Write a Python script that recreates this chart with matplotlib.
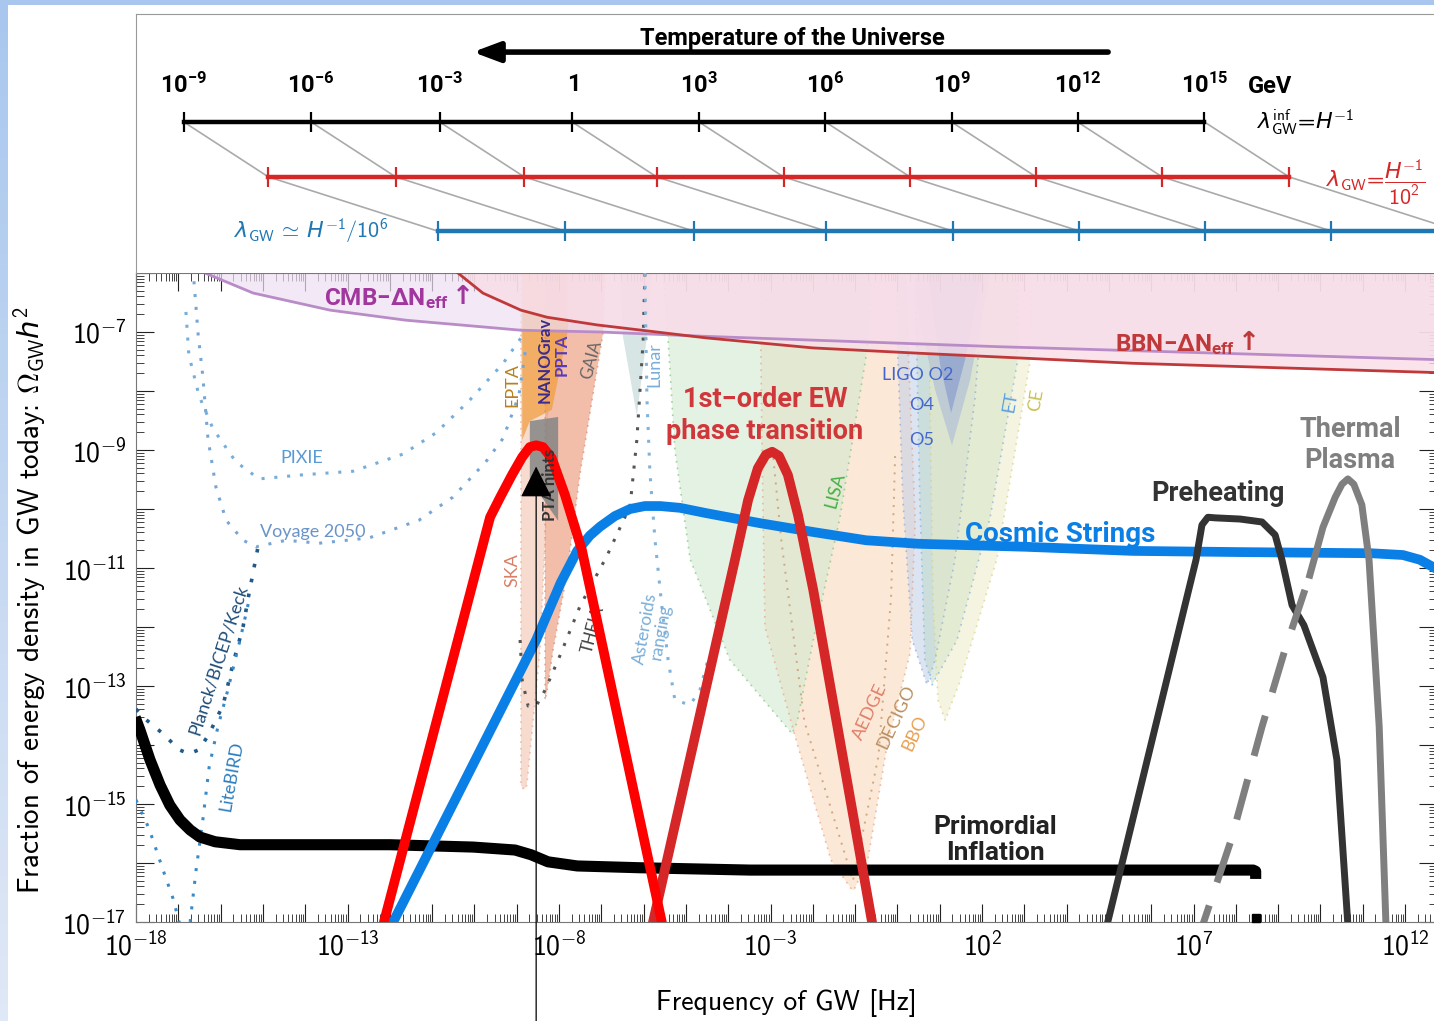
import numpy as np
import matplotlib
matplotlib.use("Agg")
import matplotlib.pyplot as plt
from matplotlib import font_manager
from matplotlib.colors import LinearSegmentedColormap
from matplotlib.patches import Rectangle
from matplotlib.ticker import LogLocator, FuncFormatter, NullFormatter

names = {f.name for f in font_manager.fontManager.ttflist}
BOLD = 'Liberation Sans Narrow' if 'Liberation Sans Narrow' in names else 'Roboto'
SMALL = 'Lato' if 'Lato' in names else 'DejaVu Sans'

plt.rcParams['font.family'] = ['cmss10', 'DejaVu Sans']
plt.rcParams['axes.unicode_minus'] = True
plt.rcParams['mathtext.fontset'] = 'custom'
plt.rcParams['mathtext.rm'] = 'cmss10'
plt.rcParams['mathtext.sf'] = 'cmss10'
plt.rcParams['mathtext.it'] = 'DejaVu Sans:italic'
plt.rcParams['mathtext.bf'] = BOLD + ':bold'
plt.rcParams['mathtext.fallback'] = 'cm'

# ---------------- data (log10 f [Hz], log10 Omega h^2) ----------------
# temperature scale: T [GeV] and log10 of the horizon frequency today
temps_exp = [-9, -6, -3, 0, 3, 6, 9, 12, 15]
horizon_logf = [-16.87, -13.86, -10.82, -7.69, -4.69, -1.70, 1.28, 4.26, 7.26]
red_shift_dec = 2    # lambda = H^-1 / 10^2
blue_shift_dec = 6   # lambda = H^-1 / 10^6

infl_lf = [-18.02, -17.905, -17.67, -17.43, -17.20, -16.96, -16.72, -16.49, -16.13, -15.54,
           -14.12, -12.0, -10.03, -9.04, -8.66, -8.26, -7.57, -6.11, -3.48, 2.43, 8.41,
           8.47, 8.47]
infl_lo = [-13.53, -13.75, -14.25, -14.68, -15.02, -15.27, -15.44, -15.56, -15.64, -15.69,
           -15.69, -15.69, -15.73, -15.78, -15.86, -15.98, -16.05, -16.08, -16.12, -16.12,
           -16.12, -16.14, -16.27]

cs_lf = [-12.2, -11.92, -8.54, -7.96, -7.57, -7.27, -7.03, -6.68, -6.32, -5.97, -5.61, -5.14,
         -4.52, -3.25, -1.99, -0.74, 0.51, 3.02, 5.55, 8.05, 11.20, 11.95, 12.35, 12.83]
cs_lo = [-17.5, -17.0, -12.22, -11.25, -10.71, -10.45, -10.30, -10.12, -10.0, -9.95, -9.95,
         -9.98, -10.07, -10.24, -10.39, -10.53, -10.59, -10.64, -10.71, -10.73, -10.75, -10.78,
         -10.86, -11.05]

pt_lf = [-12.23, -9.63, -9.39, -9.11, -8.87, -8.69, -8.54, -8.38, -8.17, -7.86, -7.46,
         -5.57, -5.50]
pt_lo = [-17.25, -10.14, -9.80, -9.42, -9.12, -8.95, -8.92, -8.95, -9.14, -9.76, -10.69,
         -17.0, -17.3]

ew_lf = [-5.90, -3.84, -3.53, -3.30, -3.11, -2.96, -2.80, -2.59, -2.35, -1.99, -0.60, -0.51]
ew_lo = [-17.39, -10.86, -9.85, -9.31, -9.08, -9.03, -9.10, -9.42, -10.10, -11.37, -17.0, -17.39]

preh_lf = [4.84, 7.06, 7.20, 7.34, 7.51, 8.10, 8.62, 8.93, 9.09, 9.33, 9.61, 10.06, 10.39,
           10.65, 10.70]
preh_lo = [-17.39, -10.86, -10.27, -10.14, -10.15, -10.17, -10.22, -10.44, -10.86, -11.63,
           -11.97, -12.85, -14.25, -17.05, -17.39]

th_dash_lf = [7.06, 7.89, 8.62, 9.16, 9.75]
th_dash_lo = [-17.39, -15.61, -13.69, -12.39, -11.12]
th_lf = [9.75, 10.06, 10.35, 10.51, 10.65, 10.79, 10.98, 11.15, 11.39, 11.55, 11.57]
th_lo = [-11.12, -10.31, -9.80, -9.58, -9.49, -9.58, -9.93, -10.86, -13.69, -17.05, -17.39]

cmb_lf = [-16.37, -15.23, -13.41, -11.62, -8.90, -7.03, -4.67, 2.43, 12.83]
cmb_lo = [-6.0, -6.34, -6.63, -6.80, -6.97, -7.0, -7.07, -7.25, -7.47]
bbn_lf = [-10.39, -9.80, -8.90, -8.28, -7.10, -4.52, -1.99, 0.51, 5.55, 12.83]
bbn_lo = [-6.0, -6.34, -6.63, -6.75, -6.88, -7.10, -7.27, -7.36, -7.53, -7.69]

# detector regions (polygons)
ska_lf = [-8.90, -8.26, -8.26, -8.45, -8.76, -8.83, -8.90]
ska_lo = [-6.0, -6.0, -9.49, -12.39, -14.68, -14.76, -14.68]
nano_lf = [-8.33, -6.91, -6.96, -7.50, -7.81, -8.14, -8.28, -8.33]
nano_lo = [-6.0, -6.0, -7.02, -9.39, -11.08, -12.39, -13.07, -13.24]
epta_lf = [-8.87, -7.79, -7.79, -8.17, -8.69, -8.87]
epta_lo = [-6.0, -6.0, -6.97, -8.32, -8.51, -8.83]
ptah_lf = [-8.69, -8.02, -8.02, -8.69]
ptah_lo = [-8.51, -8.44, -10.2, -9.51]
lunar_lf = [-6.56, -5.80, -5.92, -6.16, -6.49]
lunar_lo = [-6.0, -6.0, -7.07, -8.42, -7.07]
lisa_lf = [-5.54, -0.60, -0.72, -1.36, -1.99, -2.37, -2.49, -3.96, -4.90, -5.26, -5.42]
lisa_lo = [-6.0, -6.0, -7.32, -10.15, -12.22, -13.61, -13.81, -12.56, -10.85, -9.0, -7.14]
deci_lf = [-3.25, 0.18, 0.42, 0.30, -0.25, -0.70, -1.03, -1.07, -1.57, -2.44, -3.13, -3.20]
deci_lo = [-6.0, -6.0, -10.19, -12.44, -14.03, -15.95, -16.46, -16.46, -15.95, -13.80, -12.0, -9.0]
ligo_lf = [-0.01, 2.07, 1.83, 1.36, 0.89, 0.70, 0.35, 0.13, 0.01]
ligo_lo = [-6.0, -6.0, -8.15, -10.86, -12.56, -12.98, -12.22, -9.85, -7.39]
et_lf = [0.42, 2.85, 2.83, 2.19, 1.41, 0.82, 0.65, 0.53, 0.46]
et_lo = [-6.0, -6.0, -7.53, -10.15, -12.22, -12.98, -12.56, -9.85, -7.39]
ce_lf = [0.77, 3.18, 3.13, 2.35, 1.48, 1.13, 0.96, 0.84, 0.77]
ce_lo = [-6.0, -6.0, -7.53, -10.85, -12.92, -13.58, -13.24, -11.54, -8.15]
o4_lf = [0.42, 2.19, 1.72, 1.29, 0.89, 0.53]
o4_lo = [-6.0, -6.0, -7.81, -8.92, -7.98, -6.80]
o2_lf = [0.72, 2.0, 1.60, 1.27, 1.01]
o2_lo = [-6.0, -6.0, -7.47, -8.37, -7.56]

# dotted sensitivity curves
pixie_lf = [-16.82, -16.75, -16.51, -16.18, -15.64, -15.09, -14.05, -12.87, -11.69, -10.91,
            -10.13, -9.32, -8.85]
pixie_lo = [-6.66, -7.39, -8.08, -8.64, -9.20, -9.49, -9.42, -9.36, -9.07, -8.71, -8.17,
            -7.53, -7.05]
voy_lf = [-16.63, -16.53, -16.42, -16.30, -16.11, -15.87, -15.47, -15.16, -14.45, -13.67,
          -12.49, -11.31, -10.51, -9.73, -9.32, -8.95, -8.78]
voy_lo = [-6.14, -7.05, -7.75, -8.80, -9.63, -10.19, -10.53, -10.64, -10.53, -10.58, -10.49,
          -10.19, -9.80, -9.20, -8.80, -8.08, -7.25]
planck_lf = [-18.0, -17.83, -17.36, -16.98, -16.75, -16.51, -16.27, -15.94, -15.71, -15.47,
             -15.33, -15.16, -15.12]
planck_lo = [-13.39, -13.53, -13.81, -14.08, -14.15, -14.08, -13.81, -13.32, -12.63, -12.0,
             -11.44, -10.81, -10.66]
lite_lf = [-18.0, -17.69, -17.36, -17.13, -16.98, -16.89, -16.72, -16.58, -16.42, -16.27,
           -16.06, -15.83, -15.54, -15.30]
lite_lo = [-14.93, -15.42, -16.12, -16.59, -17.0, -17.3, -17.0, -16.12, -15.27, -14.37,
           -13.68, -13.07, -12.22, -11.46]
theia_lf = [-8.92, -8.87, -8.73, -8.54, -8.33, -7.98, -7.50, -6.87, -6.32, -6.16, -6.01, -5.97]
theia_lo = [-12.22, -12.90, -13.34, -13.34, -13.07, -12.49, -11.64, -10.80, -9.95, -8.83,
            -7.14, -6.0]
ast_lf = [-5.97, -5.92, -5.85, -5.73, -5.57, -5.42, -5.26, -4.90, -4.67, -4.48]
ast_lo = [-6.0, -8.15, -9.39, -10.53, -11.64, -12.56, -13.24, -13.32, -13.07, -12.56]
bbo_lf = [-2.95, -2.75, -2.20, -1.05, -0.45, -0.15, -0.05]
bbo_lo = [-9.0, -10.5, -13.6, -16.3, -14.2, -11.5, -9.0]

pta_arrow_lf = -8.54


def P(lf, lo):
    return 10.0 ** np.asarray(lf), 10.0 ** np.asarray(lo)


# ---------------- figure ----------------
fig = plt.figure(figsize=(14.34, 10.21), dpi=100)
bg = fig.add_axes([0, 0, 1, 1], zorder=-3)
bg.imshow(np.linspace(0, 1, 64)[:, None], aspect='auto', extent=[0, 1, 0, 1],
          cmap=LinearSegmentedColormap.from_list('bgc', ['#a9c7ee', '#dfe8f6']))
bg.axis('off')
fig.add_artist(Rectangle((8 / 1434, 0), 1, 1 - 5 / 1021, transform=fig.transFigure,
                         facecolor='white', edgecolor='none', zorder=-2))

W, H = 1434.0, 1021.0
x0, x1 = 136, 1437
ax = fig.add_axes([x0 / W, (H - 922) / H, (x1 - x0) / W, (922 - 273) / H])
axt = fig.add_axes([x0 / W, (H - 273) / H, (x1 + 10 - x0) / W, (273 - 14) / H])

xlim = (1e-18, 10 ** (-18 + (x1 - x0) / 42.3))
ylim = (1e-17, 1e-6)

# ---------------- main panel ----------------
ax.set_xscale('log')
ax.set_yscale('log')
ax.set_xlim(*xlim)
ax.set_ylim(*ylim)

def fill(lf, lo, color, alpha, edge=None, z=1):
    x, y = P(lf, lo)
    ax.fill(x, y, color=color, alpha=alpha, lw=0, zorder=z)
    if edge is not None:
        ax.plot(np.append(x, x[0]), np.append(y, y[0]), ls=(0, (1, 3)), color=edge,
                lw=1.2, alpha=0.7, zorder=z + 0.1)

fill(deci_lf, deci_lo, '#fbd9bd', 0.6, '#e8a080')
fill(lisa_lf, lisa_lo, '#cfe9cf', 0.55, '#7cc47c')
fill(ligo_lf, ligo_lo, '#c0cfe8', 0.55, '#8aa8d8')
fill(et_lf, et_lo, '#bcd9c8', 0.5, '#7fb0e0')
fill(ce_lf, ce_lo, '#ecebc4', 0.5, '#d8d080')
fill(o4_lf, o4_lo, '#93a6dc', 0.4)
fill(o2_lf, o2_lo, '#6f84cc', 0.45)
fill(ska_lf, ska_lo, '#f2bfa8', 0.55, '#e8a890')
fill(nano_lf, nano_lo, '#ea9472', 0.6, '#d88a70')
fill(epta_lf, epta_lo, '#f0a040', 0.75)
fill(lunar_lf, lunar_lo, '#c6dada', 0.7)
xh, yh = P(ptah_lf, ptah_lo)
ax.fill(xh, yh, color='#858585', alpha=0.85, lw=0, zorder=3)

# Delta N_eff bounds
xc, yc = P(cmb_lf, cmb_lo)
ax.fill_between(xc, yc, 1e-6, color='#eedff3', alpha=0.7, lw=0, zorder=2)
ax.plot(xc, yc, color='#b98cc8', lw=2, zorder=2.5)
xb, yb = P(bbn_lf, bbn_lo)
ax.fill_between(xb, yb, 1e-6, color='#f9dde7', alpha=0.8, lw=0, zorder=2.2)
ax.plot(xb, yb, color='#c0393a', lw=2, zorder=2.6)

dots = (0, (1, 3.2))
for lf, lo, c, lw in [(pixie_lf, pixie_lo, '#74aedc', 2.2), (voy_lf, voy_lo, '#78a6d4', 2.2),
                      (planck_lf, planck_lo, '#1f5a8a', 2.6), (lite_lf, lite_lo, '#3a8ac8', 2.2),
                      (theia_lf, theia_lo, '#555555', 2.2), (ast_lf, ast_lo, '#80b2da', 2.2),
                      (bbo_lf, bbo_lo, '#d0a880', 1.4)]:
    x, y = P(lf, lo)
    ax.plot(x, y, ls=dots, color=c, lw=lw, zorder=3)

# signals
x, y = P(infl_lf, infl_lo)
ax.plot(x, y, color='black', lw=8, solid_capstyle='butt', zorder=6)
ax.plot(*P([8.47], [-16.94]), 's', color='black', ms=6, zorder=6, clip_on=False)
x, y = P(cs_lf, cs_lo)
ax.plot(x, y, color='#0a7fe6', lw=7, zorder=6)
x, y = P(pt_lf, pt_lo)
ax.plot(x, y, color='#ff0000', lw=7, zorder=7)
x, y = P(ew_lf, ew_lo)
ax.plot(x, y, color='#d62728', lw=7, zorder=6)
x, y = P(preh_lf, preh_lo)
ax.plot(x, y, color='#333333', lw=5, zorder=6)
x, y = P(th_dash_lf, th_dash_lo)
ax.plot(x, y, color='#7f7f7f', lw=5, ls=(0, (6, 3.5)), zorder=6)
x, y = P(th_lf, th_lo)
ax.plot(x, y, color='#7f7f7f', lw=5, zorder=6)

ax.annotate('', xy=P(pta_arrow_lf, -9.28), xytext=P(pta_arrow_lf, -18.7),
            arrowprops=dict(arrowstyle='-|>,head_length=1.0,head_width=0.5', color='black',
                            lw=0.9, shrinkA=0, shrinkB=0, mutation_scale=20),
            annotation_clip=False, zorder=9)

# labels
def lab(lf, lo, s, c, size=13, rot=0, fam=SMALL, weight='normal', z=5, ls=1.0, ha='center'):
    ax.text(10 ** lf, 10 ** lo, s, color=c, fontsize=size, rotation=rot,
            family=[fam, 'DejaVu Sans'], weight=weight, ha=ha, va='center', zorder=z,
            linespacing=ls)

lab(2.31, -15.61, 'Primordial\nInflation', '#222222', 19, fam=BOLD, weight='bold', ls=1.08)
lab(3.84, -10.44, 'Cosmic Strings', '#0a7fe6', 20, fam=BOLD, weight='bold')
lab(7.58, -9.73, 'Preheating', '#333333', 19.5, fam=BOLD, weight='bold')
lab(10.70, -8.92, 'Thermal\nPlasma', '#7f7f7f', 19.5, fam=BOLD, weight='bold', ls=1.18)
lab(-3.13, -8.42, '1st\u2212order EW\nphase transition', '#d0373a', 19.5, fam=BOLD,
    weight='bold', ls=1.22)
lab(-10.62, -6.43, '$\\mathbf{CMB{-}\\Delta N_{eff}}$', '#a0369e', 17.5, fam=BOLD,
    weight='bold', ha='right')
lab(-10.28, -6.40, '\u2191', '#a0369e', 19, fam='DejaVu Sans', weight='bold')
lab(7.98, -7.22, '$\\mathbf{BBN{-}\\Delta N_{eff}}$', '#c0393a', 17.5, fam=BOLD,
    weight='bold', ha='right')
lab(8.32, -7.19, '\u2191', '#c0393a', 19, fam='DejaVu Sans', weight='bold')

lab(-14.08, -9.14, 'PIXIE', '#5b9bd5')
lab(-13.82, -10.39, 'Voyage 2050', '#6a94c8')
lab(-16.06, -12.56, 'Planck/BICEP/Keck', '#1f4e79', rot=72)
lab(-15.73, -14.53, 'LiteBIRD', '#2e7fc0', rot=80)
lab(-9.11, -7.90, 'EPTA', '#b8801e', rot=90)
lab(-8.33, -7.47, 'NANOGrav', '#3c2a8c', 12, rot=90, weight='bold')
lab(-7.93, -7.39, 'PPTA', '#5a3ab8', 12, rot=90, weight='bold')
lab(-7.22, -7.47, 'GAIA', '#666666', 12, rot=75)
lab(-5.75, -7.56, 'Lunar', '#7aaed8', rot=90)
lab(-8.21, -9.59, 'PTA hints', '#333333', 12, rot=90, weight='bold', z=8)
lab(-9.11, -11.03, 'SKA', '#d98066', rot=90)
lab(-7.20, -12.05, 'THEIA', '#444444', 12, rot=75)
lab(-5.78, -12.05, 'Asteroids\nranging', '#7aaed8', 12.5, rot=80)
lab(0.49, -7.73, 'LIGO O2', '#4466cc')
lab(0.58, -8.24, 'O4', '#4466cc')
lab(0.58, -8.83, 'O5', '#4466cc')
lab(-1.48, -9.68, 'LISA', '#44b044', rot=75)
lab(2.66, -8.19, 'ET', '#5aa0e0', rot=80)
lab(3.28, -8.15, 'CE', '#c8c050', rot=80)
lab(-0.65, -13.44, 'AEDGE', '#e0806a', rot=65)
lab(-0.03, -13.53, 'DECIGO', '#b89060', rot=65)
lab(0.42, -13.80, 'BBO', '#e8a050', rot=65)

# axes styling
ax.xaxis.set_major_locator(LogLocator(base=10, numticks=100))
ax.xaxis.set_minor_locator(LogLocator(base=10, subs=np.arange(2, 10), numticks=400))
ax.yaxis.set_major_locator(LogLocator(base=10, numticks=100))
ax.yaxis.set_minor_locator(LogLocator(base=10, subs=np.arange(2, 10), numticks=400))
ax.xaxis.set_major_formatter(FuncFormatter(
    lambda v, p: r'$10^{%d}$' % round(np.log10(v)) if round(np.log10(v)) % 5 == 2 else ''))
ax.yaxis.set_major_formatter(FuncFormatter(
    lambda v, p: r'$10^{%d}$' % round(np.log10(v)) if round(np.log10(v)) % 2 == 1 else ''))
ax.xaxis.set_minor_formatter(NullFormatter())
ax.yaxis.set_minor_formatter(NullFormatter())
ax.tick_params(which='both', direction='in', top=True, right=True, color='#222222')
ax.tick_params(which='major', length=13, width=0.8, labelsize=20, pad=7)
ax.tick_params(which='minor', length=6, width=0.6)
for s in ax.spines.values():
    s.set_color('#777777')
ax.set_xlabel('Frequency of GW [Hz]', fontsize=20)
ax.set_ylabel(r'Fraction of energy density in GW today: $\Omega_{\rm GW}h^2$', fontsize=21)
ax.xaxis.set_label_coords(0.5, -0.103)
ax.yaxis.set_label_coords(-0.068, 0.495)

# ---------------- temperature panel ----------------
axt.set_xscale('log')
axt.set_xlim(xlim[0], 10 ** (-18 + (x1 + 10 - x0) / 42.3))
axt.set_ylim(0, 1)
axt.set_xticks([])
axt.set_yticks([])
axt.minorticks_off()
for s in axt.spines.values():
    s.set_color('#999999')
axt.spines['bottom'].set_visible(False)

y_blk, y_red, y_blu = 0.583, 0.371, 0.162
blk = 10.0 ** np.array(horizon_logf)
red = blk * 10 ** red_shift_dec
blu = blk * 10 ** blue_shift_dec
for a, b, c in zip(blk, red, blu):
    axt.plot([a, b], [y_blk, y_red], color='#aaaaaa', lw=1.2, zorder=1)
    axt.plot([b, c], [y_red, y_blu], color='#aaaaaa', lw=1.2, zorder=1)
axt.plot([blk[0], blk[-1]], [y_blk] * 2, color='black', lw=3.2, zorder=2)
axt.plot(blk, [y_blk] * len(blk), '|', color='black', ms=15, mew=1.6, zorder=3)
axt.plot([red[0], red[-1]], [y_red] * 2, color='#d62728', lw=3.2, zorder=2)
axt.plot(red, [y_red] * len(red), '|', color='#d62728', ms=15, mew=1.6, zorder=3)
axt.plot([blu[0], blu[-1]], [y_blu] * 2, color='#1f77b4', lw=3.2, zorder=2)
axt.plot(blu, [y_blu] * len(blu), '|', color='#1f77b4', ms=15, mew=1.6, zorder=3)

for e, xv in zip(temps_exp, blk):
    s = r'$\mathbf{1}$' if e == 0 else r'$\mathbf{10^{%d}}$' % e
    axt.text(xv, 0.726, s, ha='center', va='center', fontsize=17)
axt.text(blk[-1] * 10 ** 1.55, 0.722, 'GeV', ha='center', va='center', fontsize=17,
         family=BOLD, weight='bold')
axt.text(0.5008, 0.907, 'Temperature of the Universe', transform=axt.transAxes, ha='center',
         va='center', fontsize=17, family=BOLD, weight='bold')
axt.annotate('', xy=(0.257, 0.853), xytext=(0.7415, 0.853), xycoords='axes fraction',
             arrowprops=dict(arrowstyle='-|>,head_length=0.8,head_width=0.3', color='black',
                             lw=4, shrinkA=0, shrinkB=0, mutation_scale=20))
axt.text(blk[-1] * 10 ** 2.4, y_blk, r'$\lambda_{\rm GW}^{\rm inf}\!=\!H^{-1}$', ha='center',
         va='center', fontsize=16, color='black')
axt.text(red[-1] * 10 ** 2.05, y_red - 0.02, r'$\lambda_{\rm GW}\!=\!\dfrac{H^{-1}}{10^2}$',
         ha='center', va='center', fontsize=16, color='#d62728')
axt.text(blu[0] / 10 ** 3.0, y_blu, r'$\lambda_{\rm GW}\,\simeq\,H^{-1}/10^6$', ha='center',
         va='center', fontsize=16, color='#1f77b4')

fig.savefig('out.png', dpi=100, facecolor=fig.get_facecolor())
